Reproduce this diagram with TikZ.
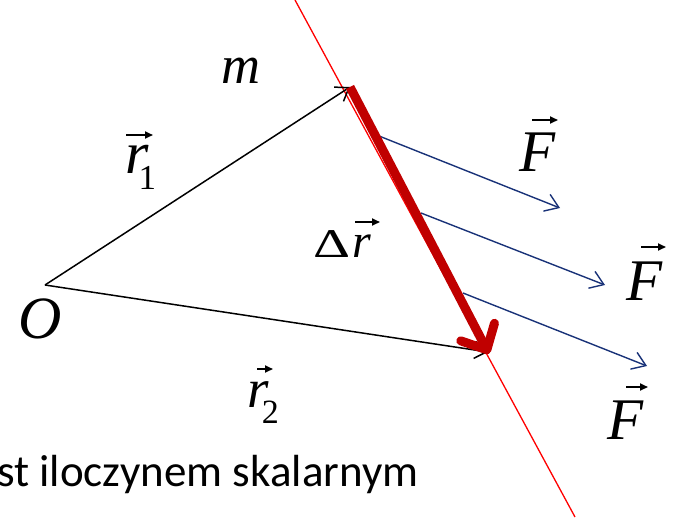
\documentclass[tikz,border=0pt]{standalone}
\usepackage{graphicx}
\usepackage{fontspec}
\setmainfont{Liberation Serif}
\newfontfamily\calibri{Carlito}
\usetikzlibrary{arrows.meta,calc}
\definecolor{lred}{RGB}{255,0,0}
\definecolor{dred}{RGB}{192,0,0}
\definecolor{fblue}{RGB}{25,50,120}
\newcommand{\subx}[3]{\kern#2\raisebox{-16pt}{\fontsize{#3}{#3}\selectfont #1}}
\tikzset{
  posvec/.style={black, line width=1.5pt, -{Straight Barb[length=12pt,width=17pt,line width=1.5pt]}},
  force/.style={fblue, line width=1.4pt, -{Straight Barb[length=13pt,width=18pt,line width=1.4pt]}},
  disp/.style={dred, line width=9pt, -{Straight Barb[length=20pt,width=38pt,line width=9pt,round]}, shorten >=-2pt},
  redline/.style={lred, line width=1.3pt},
  accent/.style={black, line width=1.8pt, -{Triangle[length=8pt,width=7pt]}},
  lbl/.style={inner sep=0pt, anchor=base west},
  txt/.style={inner sep=0pt, anchor=base west, font=\calibri\fontsize{45}{54}\selectfont}
}
\begin{document}
\begin{tikzpicture}[x=1pt,y=-1pt]
\useasboundingbox (0,0) rectangle (676,517);
\clip (0,0) rectangle (676,517);
% coordinates
\coordinate (O) at (45,285);
\coordinate (A) at (350,87);
\coordinate (B) at (488,352);
\coordinate (Ltop) at (295,0);
\coordinate (Lbot) at (575,517);
\coordinate (F1s) at (379,136);
\coordinate (F1e) at (560,208);
\coordinate (F2s) at (421,213);
\coordinate (F2e) at (605,285);
\coordinate (F3s) at (463,293);
\coordinate (F3e) at (647,366);
% red line
\draw[redline] (Ltop) -- (Lbot);
% position vectors
\draw[posvec] (O) -- (A);
\draw[posvec] (O) -- (B);
% forces
\draw[force] (F1s) -- (F1e);
\draw[force] (F2s) -- (F2e);
\draw[force] (F3s) -- (F3e);
% displacement
\draw[disp] (A) -- (B);
% labels
\node[lbl, font=\fontsize{54}{60}\selectfont] (m) at (221,83) {\textit{m}};
\node[lbl, font=\fontsize{60}{70}\selectfont] (r1) at (125,173)
  {\textit{r}\subx{1}{-10pt}{35pt}};
\node[lbl, font=\fontsize{48}{56}\selectfont] (dr) at (313,257)
  {\scalebox{1.2}[0.85]{Δ}\kern2pt\textit{r}};
\node[lbl, font=\fontsize{60}{70}\selectfont] (Ol) at (18,338) {\textit{O}};
\node[lbl, font=\fontsize{55}{64}\selectfont] (r2) at (247,407)
  {\textit{r}\subx{2}{-7pt}{34pt}};
\node[lbl, font=\fontsize{59}{70}\selectfont] (Fa) at (519,171) {\textit{F}};
\node[lbl, font=\fontsize{59}{70}\selectfont] (Fb) at (626,300) {\textit{F}};
\node[lbl, font=\fontsize{59}{70}\selectfont] (Fc) at (607,439) {\textit{F}};
% vector accents
\draw[accent] ($(r1.base west)+(1,-38)$) -- ++(27,0);
\draw[accent] ($(dr.base west)+(42,-35)$) -- ++(25,0);
\draw[accent] ($(r2.base west)+(10,-38)$) -- ++(16,0);
\draw[accent] ($(Fa.base west)+(13,-51)$) -- ++(26,0);
\draw[accent] ($(Fb.base west)+(15,-53)$) -- ++(25,0);
\draw[accent] ($(Fc.base west)+(19,-52)$) -- ++(22,0);
\node[txt] (t1) at (-3,486) {st iloczynem skalarnym};
\end{tikzpicture}
\end{document}
